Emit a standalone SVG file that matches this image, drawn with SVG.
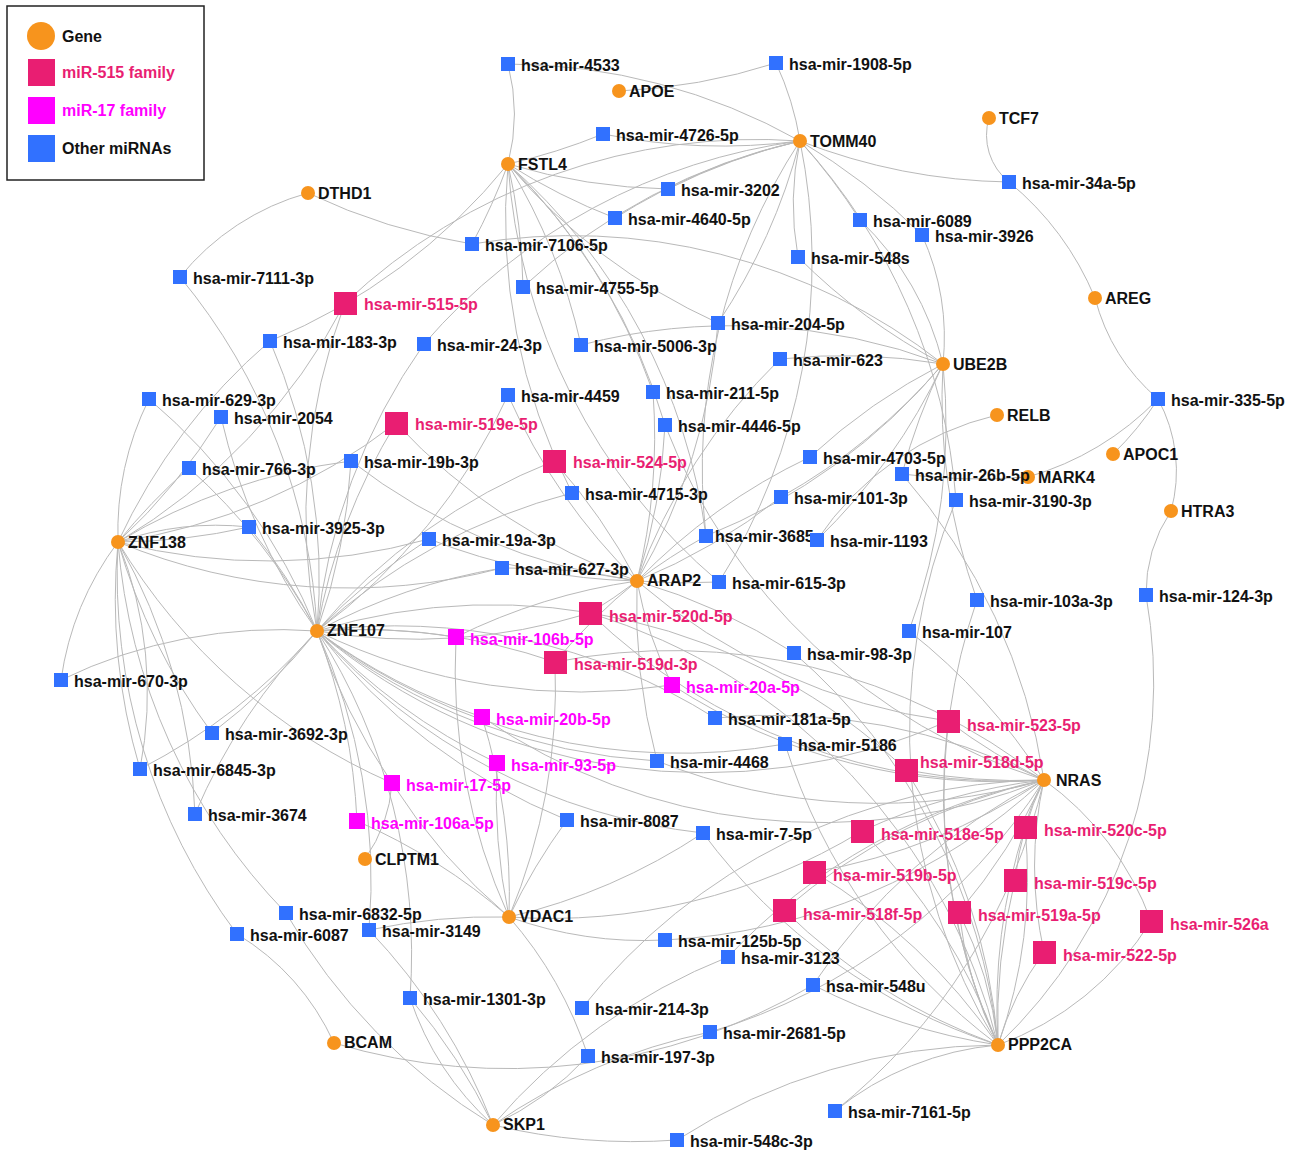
<svg xmlns="http://www.w3.org/2000/svg" width="1293" height="1157" viewBox="0 0 1293 1157">
<style>
.e path{fill:none;stroke:#b9b9b9;stroke-width:1}
.g{fill:#F7941D}
.o{fill:#3171FF}
.p{fill:#E91E72}
.m{fill:#FF00FF}
text{font-family:"Liberation Sans",Arial,sans-serif;font-weight:bold;font-size:16px;fill:#111}
text.tp{fill:#E91E72}
text.tm{fill:#FF00FF}
</style>
<rect width="1293" height="1157" fill="#fff"/>
<g id="legend">
<rect x="7" y="6" width="197" height="174" fill="#fff" stroke="#222" stroke-width="1.5"/>
<circle cx="41" cy="36" r="14" class="g"/><text x="62" y="42">Gene</text>
<rect x="28" y="59" width="27" height="27" class="p"/><text x="62" y="78" class="tp">miR-515 family</text>
<rect x="28" y="97" width="27" height="27" class="m"/><text x="62" y="116" class="tm">miR-17 family</text>
<rect x="28" y="135" width="27" height="27" class="o"/><text x="62" y="154">Other miRNAs</text>
</g>
<g id="edges" class="e">
<path d="M800 141A600 600 0 0 0 508 64"/>
<path d="M800 141A300 300 0 0 0 776 63"/>
<path d="M619 91A600 600 0 0 0 776 63"/>
<path d="M800 141A600 600 0 0 1 603 134"/>
<path d="M508 164A600 600 0 0 0 603 134"/>
<path d="M508 164A200 200 0 0 0 508 64"/>
<path d="M508 164A600 600 0 0 0 668 189"/>
<path d="M800 141A600 600 0 0 0 668 189"/>
<path d="M508 164A600 600 0 0 0 615 218"/>
<path d="M800 141A600 600 0 0 0 615 218"/>
<path d="M800 141A600 600 0 0 0 1009 182"/>
<path d="M989 118A60 60 0 0 0 1009 182"/>
<path d="M1095 298A300 300 0 0 0 1009 182"/>
<path d="M1095 298A200 200 0 0 0 1158 399"/>
<path d="M800 141A600 600 0 0 1 860 220"/>
<path d="M800 141A600 600 0 0 1 922 235"/>
<path d="M943 364A300 300 0 0 0 860 220"/>
<path d="M943 364A250 250 0 0 0 922 235"/>
<path d="M800 141A300 300 0 0 0 798 257"/>
<path d="M943 364A600 600 0 0 1 798 257"/>
<path d="M308 193A600 600 0 0 0 472 244"/>
<path d="M308 193A250 250 0 0 0 180 277"/>
<path d="M508 164A600 600 0 0 1 472 244"/>
<path d="M943 364A600 600 0 0 0 472 244"/>
<path d="M508 164A600 600 0 0 1 523 287"/>
<path d="M800 141A600 600 0 0 0 523 287"/>
<path d="M508 164A600 600 0 0 0 718 323"/>
<path d="M800 141A600 600 0 0 1 718 323"/>
<path d="M637 581A600 600 0 0 0 718 323"/>
<path d="M508 164A600 600 0 0 1 270 341"/>
<path d="M317 631A600 600 0 0 0 270 341"/>
<path d="M118 542A600 600 0 0 1 270 341"/>
<path d="M800 141A600 600 0 0 0 424 344"/>
<path d="M317 631A600 600 0 0 1 424 344"/>
<path d="M508 164A600 600 0 0 1 581 345"/>
<path d="M943 364A600 600 0 0 0 581 345"/>
<path d="M943 364A600 600 0 0 0 780 359"/>
<path d="M637 581A600 600 0 0 1 780 359"/>
<path d="M800 141A600 600 0 0 0 345 303"/>
<path d="M317 631A600 600 0 0 1 345 303"/>
<path d="M118 542A600 600 0 0 0 345 303"/>
<path d="M637 581A600 600 0 0 1 508 395"/>
<path d="M317 631A600 600 0 0 0 508 395"/>
<path d="M508 164A600 600 0 0 1 653 392"/>
<path d="M637 581A600 600 0 0 0 653 392"/>
<path d="M1113 454A300 300 0 0 0 1158 399"/>
<path d="M1028 477A300 300 0 0 0 1158 399"/>
<path d="M1171 511A150 150 0 0 0 1158 399"/>
<path d="M118 542A300 300 0 0 1 149 399"/>
<path d="M317 631A600 600 0 0 0 149 399"/>
<path d="M118 542A600 600 0 0 0 221 417"/>
<path d="M317 631A600 600 0 0 1 221 417"/>
<path d="M508 164A600 600 0 0 1 665 425"/>
<path d="M637 581A600 600 0 0 0 665 425"/>
<path d="M1044 780A600 600 0 0 1 665 425"/>
<path d="M943 364A600 600 0 0 0 810 457"/>
<path d="M637 581A600 600 0 0 1 810 457"/>
<path d="M118 542A600 600 0 0 1 351 461"/>
<path d="M317 631A600 600 0 0 0 351 461"/>
<path d="M637 581A600 600 0 0 1 351 461"/>
<path d="M118 542A600 600 0 0 1 189 468"/>
<path d="M317 631A600 600 0 0 0 189 468"/>
<path d="M943 364A600 600 0 0 0 902 474"/>
<path d="M1028 477A600 600 0 0 1 902 474"/>
<path d="M1044 780A600 600 0 0 0 902 474"/>
<path d="M508 164A600 600 0 0 0 572 493"/>
<path d="M317 631A600 600 0 0 1 572 493"/>
<path d="M943 364A600 600 0 0 1 781 497"/>
<path d="M637 581A600 600 0 0 0 781 497"/>
<path d="M997 415A300 300 0 0 0 817 540"/>
<path d="M800 141A600 600 0 0 1 956 500"/>
<path d="M998 1045A600 600 0 0 1 956 500"/>
<path d="M118 542A600 600 0 0 0 249 527"/>
<path d="M118 542A300 300 0 0 1 249 527"/>
<path d="M317 631A600 600 0 0 0 249 527"/>
<path d="M800 141A600 600 0 0 0 706 536"/>
<path d="M637 581A600 600 0 0 1 706 536"/>
<path d="M943 364A600 600 0 0 1 706 536"/>
<path d="M317 631A600 600 0 0 1 429 539"/>
<path d="M637 581A600 600 0 0 1 429 539"/>
<path d="M118 542A600 600 0 0 0 429 539"/>
<path d="M943 364A600 600 0 0 1 817 540"/>
<path d="M317 631A600 600 0 0 1 502 568"/>
<path d="M637 581A600 600 0 0 0 502 568"/>
<path d="M118 542A600 600 0 0 0 502 568"/>
<path d="M800 141A600 600 0 0 1 719 582"/>
<path d="M637 581A600 600 0 0 0 719 582"/>
<path d="M943 364A600 600 0 0 0 977 600"/>
<path d="M998 1045A600 600 0 0 1 977 600"/>
<path d="M1171 511A150 150 0 0 0 1146 595"/>
<path d="M998 1045A500 500 0 0 0 1146 595"/>
<path d="M943 364A600 600 0 0 1 909 631"/>
<path d="M1044 780A600 600 0 0 0 909 631"/>
<path d="M637 581A600 600 0 0 1 794 653"/>
<path d="M998 1045A600 600 0 0 0 794 653"/>
<path d="M118 542A300 300 0 0 0 61 680"/>
<path d="M317 631A500 500 0 0 0 61 680"/>
<path d="M317 631A600 600 0 0 1 715 718"/>
<path d="M1044 780A600 600 0 0 0 715 718"/>
<path d="M118 542A600 600 0 0 0 212 733"/>
<path d="M317 631A600 600 0 0 1 212 733"/>
<path d="M317 631A600 600 0 0 0 785 744"/>
<path d="M998 1045A600 600 0 0 1 785 744"/>
<path d="M637 581A600 600 0 0 0 657 761"/>
<path d="M317 631A600 600 0 0 0 657 761"/>
<path d="M1044 780A600 600 0 0 1 657 761"/>
<path d="M118 542A600 600 0 0 0 140 769"/>
<path d="M118 542A400 400 0 0 1 140 769"/>
<path d="M317 631A600 600 0 0 1 140 769"/>
<path d="M118 542A600 600 0 0 1 195 814"/>
<path d="M317 631A600 600 0 0 0 195 814"/>
<path d="M317 631A600 600 0 0 0 567 820"/>
<path d="M509 917A600 600 0 0 1 567 820"/>
<path d="M317 631A600 600 0 0 0 703 833"/>
<path d="M509 917A600 600 0 0 0 703 833"/>
<path d="M998 1045A600 600 0 0 1 703 833"/>
<path d="M118 542A600 600 0 0 0 286 913"/>
<path d="M493 1125A600 600 0 0 1 286 913"/>
<path d="M317 631A600 600 0 0 1 369 930"/>
<path d="M509 917A600 600 0 0 0 369 930"/>
<path d="M493 1125A600 600 0 0 0 369 930"/>
<path d="M118 542A600 600 0 0 0 237 934"/>
<path d="M334 1043A250 250 0 0 0 237 934"/>
<path d="M509 917A400 400 0 0 0 665 940"/>
<path d="M1044 780A600 600 0 0 1 665 940"/>
<path d="M1044 780A600 600 0 0 0 728 957"/>
<path d="M493 1125A600 600 0 0 1 728 957"/>
<path d="M1044 780A600 600 0 0 0 813 985"/>
<path d="M998 1045A600 600 0 0 1 813 985"/>
<path d="M334 1043A600 600 0 0 0 813 985"/>
<path d="M317 631A600 600 0 0 1 410 998"/>
<path d="M493 1125A600 600 0 0 0 410 998"/>
<path d="M493 1125A300 300 0 0 1 410 998"/>
<path d="M1044 780A600 600 0 0 0 582 1008"/>
<path d="M1044 780A600 600 0 0 1 710 1032"/>
<path d="M493 1125A600 600 0 0 1 710 1032"/>
<path d="M509 917A400 400 0 0 1 588 1056"/>
<path d="M493 1125A300 300 0 0 0 588 1056"/>
<path d="M998 1045A300 300 0 0 0 835 1111"/>
<path d="M1044 780A600 600 0 0 1 835 1111"/>
<path d="M493 1125A600 600 0 0 0 677 1140"/>
<path d="M998 1045A600 600 0 0 0 677 1140"/>
<path d="M317 631A600 600 0 0 1 396 423"/>
<path d="M118 542A600 600 0 0 0 396 423"/>
<path d="M637 581A600 600 0 0 1 396 423"/>
<path d="M317 631A600 600 0 0 1 554 461"/>
<path d="M637 581A600 600 0 0 0 554 461"/>
<path d="M317 631A600 600 0 0 0 590 613"/>
<path d="M637 581A600 600 0 0 1 590 613"/>
<path d="M1044 780A600 600 0 0 1 590 613"/>
<path d="M998 1045A600 600 0 0 0 590 613"/>
<path d="M317 631A600 600 0 0 1 555 662"/>
<path d="M637 581A600 600 0 0 0 555 662"/>
<path d="M509 917A600 600 0 0 0 555 662"/>
<path d="M1044 780A600 600 0 0 0 555 662"/>
<path d="M317 631A600 600 0 0 0 948 721"/>
<path d="M1044 780A600 600 0 0 1 948 721"/>
<path d="M998 1045A600 600 0 0 1 948 721"/>
<path d="M637 581A600 600 0 0 0 948 721"/>
<path d="M1044 780A600 600 0 0 1 906 770"/>
<path d="M998 1045A600 600 0 0 0 906 770"/>
<path d="M317 631A600 600 0 0 1 906 770"/>
<path d="M1044 780A600 600 0 0 0 862 831"/>
<path d="M998 1045A600 600 0 0 0 862 831"/>
<path d="M509 917A600 600 0 0 0 862 831"/>
<path d="M1044 780A200 200 0 0 0 1025 827"/>
<path d="M998 1045A600 600 0 0 1 1025 827"/>
<path d="M998 1045A500 500 0 0 0 1025 827"/>
<path d="M1044 780A600 600 0 0 1 814 872"/>
<path d="M998 1045A600 600 0 0 0 814 872"/>
<path d="M1044 780A300 300 0 0 0 1015 880"/>
<path d="M998 1045A600 600 0 0 1 1015 880"/>
<path d="M1044 780A600 600 0 0 0 784 910"/>
<path d="M998 1045A600 600 0 0 1 784 910"/>
<path d="M1044 780A600 600 0 0 1 959 912"/>
<path d="M998 1045A400 400 0 0 0 959 912"/>
<path d="M998 1045A400 400 0 0 1 959 912"/>
<path d="M1044 780A300 300 0 0 1 1151 921"/>
<path d="M998 1045A300 300 0 0 0 1151 921"/>
<path d="M1044 780A400 400 0 0 0 1044 952"/>
<path d="M998 1045A300 300 0 0 1 1044 952"/>
<path d="M317 631A600 600 0 0 1 456 637"/>
<path d="M637 581A600 600 0 0 0 456 637"/>
<path d="M509 917A600 600 0 0 1 456 637"/>
<path d="M317 631A600 600 0 0 0 672 685"/>
<path d="M637 581A400 400 0 0 0 672 685"/>
<path d="M1044 780A600 600 0 0 1 672 685"/>
<path d="M317 631A600 600 0 0 0 482 717"/>
<path d="M1044 780A600 600 0 0 1 482 717"/>
<path d="M509 917A600 600 0 0 0 482 717"/>
<path d="M317 631A600 600 0 0 0 497 763"/>
<path d="M509 917A600 600 0 0 1 497 763"/>
<path d="M317 631A600 600 0 0 0 392 783"/>
<path d="M509 917A600 600 0 0 1 392 783"/>
<path d="M365 859A150 150 0 0 0 392 783"/>
<path d="M118 542A600 600 0 0 0 392 783"/>
<path d="M317 631A600 600 0 0 1 357 821"/>
<path d="M509 917A600 600 0 0 0 357 821"/>
<path d="M317 631A600 600 0 0 0 180 277"/>
<path d="M508 164A600 600 0 0 1 706 536"/>
<path d="M508 164A600 600 0 0 0 719 582"/>
</g>
<g id="genes">
<g id="n-APOE"><circle cx="619" cy="91" r="7" class="g"/><text x="629" y="97">APOE</text></g>
<g id="n-TOMM40"><circle cx="800" cy="141" r="7" class="g"/><text x="810" y="147">TOMM40</text></g>
<g id="n-FSTL4"><circle cx="508" cy="164" r="7" class="g"/><text x="518" y="170">FSTL4</text></g>
<g id="n-TCF7"><circle cx="989" cy="118" r="7" class="g"/><text x="999" y="124">TCF7</text></g>
<g id="n-DTHD1"><circle cx="308" cy="193" r="7" class="g"/><text x="318" y="199">DTHD1</text></g>
<g id="n-AREG"><circle cx="1095" cy="298" r="7" class="g"/><text x="1105" y="304">AREG</text></g>
<g id="n-UBE2B"><circle cx="943" cy="364" r="7" class="g"/><text x="953" y="370">UBE2B</text></g>
<g id="n-RELB"><circle cx="997" cy="415" r="7" class="g"/><text x="1007" y="421">RELB</text></g>
<g id="n-APOC1"><circle cx="1113" cy="454" r="7" class="g"/><text x="1123" y="460">APOC1</text></g>
<g id="n-MARK4"><circle cx="1028" cy="477" r="7" class="g"/><text x="1038" y="483">MARK4</text></g>
<g id="n-HTRA3"><circle cx="1171" cy="511" r="7" class="g"/><text x="1181" y="517">HTRA3</text></g>
<g id="n-ZNF138"><circle cx="118" cy="542" r="7" class="g"/><text x="128" y="548">ZNF138</text></g>
<g id="n-ARAP2"><circle cx="637" cy="581" r="7" class="g"/><text x="647" y="586">ARAP2</text></g>
<g id="n-ZNF107"><circle cx="317" cy="631" r="7" class="g"/><text x="327" y="636">ZNF107</text></g>
<g id="n-NRAS"><circle cx="1044" cy="780" r="7" class="g"/><text x="1056" y="786">NRAS</text></g>
<g id="n-CLPTM1"><circle cx="365" cy="859" r="7" class="g"/><text x="375" y="865">CLPTM1</text></g>
<g id="n-VDAC1"><circle cx="509" cy="917" r="7" class="g"/><text x="519" y="922">VDAC1</text></g>
<g id="n-BCAM"><circle cx="334" cy="1043" r="7" class="g"/><text x="344" y="1048">BCAM</text></g>
<g id="n-PPP2CA"><circle cx="998" cy="1045" r="7" class="g"/><text x="1008" y="1050">PPP2CA</text></g>
<g id="n-SKP1"><circle cx="493" cy="1125" r="7" class="g"/><text x="503" y="1130">SKP1</text></g>
</g>
<g id="mirnas">
<g id="n-mir-4533"><rect x="501" y="57" width="14" height="14" class="o"/><text x="521" y="71">hsa-mir-4533</text></g>
<g id="n-mir-1908-5p"><rect x="769" y="56" width="14" height="14" class="o"/><text x="789" y="70">hsa-mir-1908-5p</text></g>
<g id="n-mir-4726-5p"><rect x="596" y="127" width="14" height="14" class="o"/><text x="616" y="141">hsa-mir-4726-5p</text></g>
<g id="n-mir-3202"><rect x="661" y="182" width="14" height="14" class="o"/><text x="681" y="196">hsa-mir-3202</text></g>
<g id="n-mir-34a-5p"><rect x="1002" y="175" width="14" height="14" class="o"/><text x="1022" y="189">hsa-mir-34a-5p</text></g>
<g id="n-mir-4640-5p"><rect x="608" y="211" width="14" height="14" class="o"/><text x="628" y="225">hsa-mir-4640-5p</text></g>
<g id="n-mir-6089"><rect x="853" y="213" width="14" height="14" class="o"/><text x="873" y="227">hsa-mir-6089</text></g>
<g id="n-mir-3926"><rect x="915" y="228" width="14" height="14" class="o"/><text x="935" y="242">hsa-mir-3926</text></g>
<g id="n-mir-7106-5p"><rect x="465" y="237" width="14" height="14" class="o"/><text x="485" y="251">hsa-mir-7106-5p</text></g>
<g id="n-mir-548s"><rect x="791" y="250" width="14" height="14" class="o"/><text x="811" y="264">hsa-mir-548s</text></g>
<g id="n-mir-7111-3p"><rect x="173" y="270" width="14" height="14" class="o"/><text x="193" y="284">hsa-mir-7111-3p</text></g>
<g id="n-mir-4755-5p"><rect x="516" y="280" width="14" height="14" class="o"/><text x="536" y="294">hsa-mir-4755-5p</text></g>
<g id="n-mir-204-5p"><rect x="711" y="316" width="14" height="14" class="o"/><text x="731" y="330">hsa-mir-204-5p</text></g>
<g id="n-mir-183-3p"><rect x="263" y="334" width="14" height="14" class="o"/><text x="283" y="348">hsa-mir-183-3p</text></g>
<g id="n-mir-24-3p"><rect x="417" y="337" width="14" height="14" class="o"/><text x="437" y="351">hsa-mir-24-3p</text></g>
<g id="n-mir-5006-3p"><rect x="574" y="338" width="14" height="14" class="o"/><text x="594" y="352">hsa-mir-5006-3p</text></g>
<g id="n-mir-623"><rect x="773" y="352" width="14" height="14" class="o"/><text x="793" y="366">hsa-mir-623</text></g>
<g id="n-mir-4459"><rect x="501" y="388" width="14" height="14" class="o"/><text x="521" y="402">hsa-mir-4459</text></g>
<g id="n-mir-211-5p"><rect x="646" y="385" width="14" height="14" class="o"/><text x="666" y="399">hsa-mir-211-5p</text></g>
<g id="n-mir-335-5p"><rect x="1151" y="392" width="14" height="14" class="o"/><text x="1171" y="406">hsa-mir-335-5p</text></g>
<g id="n-mir-629-3p"><rect x="142" y="392" width="14" height="14" class="o"/><text x="162" y="406">hsa-mir-629-3p</text></g>
<g id="n-mir-2054"><rect x="214" y="410" width="14" height="14" class="o"/><text x="234" y="424">hsa-mir-2054</text></g>
<g id="n-mir-4446-5p"><rect x="658" y="418" width="14" height="14" class="o"/><text x="678" y="432">hsa-mir-4446-5p</text></g>
<g id="n-mir-4703-5p"><rect x="803" y="450" width="14" height="14" class="o"/><text x="823" y="464">hsa-mir-4703-5p</text></g>
<g id="n-mir-19b-3p"><rect x="344" y="454" width="14" height="14" class="o"/><text x="364" y="468">hsa-mir-19b-3p</text></g>
<g id="n-mir-766-3p"><rect x="182" y="461" width="14" height="14" class="o"/><text x="202" y="475">hsa-mir-766-3p</text></g>
<g id="n-mir-26b-5p"><rect x="895" y="467" width="14" height="14" class="o"/><text x="915" y="481">hsa-mir-26b-5p</text></g>
<g id="n-mir-4715-3p"><rect x="565" y="486" width="14" height="14" class="o"/><text x="585" y="500">hsa-mir-4715-3p</text></g>
<g id="n-mir-101-3p"><rect x="774" y="490" width="14" height="14" class="o"/><text x="794" y="504">hsa-mir-101-3p</text></g>
<g id="n-mir-3190-3p"><rect x="949" y="493" width="14" height="14" class="o"/><text x="969" y="507">hsa-mir-3190-3p</text></g>
<g id="n-mir-3925-3p"><rect x="242" y="520" width="14" height="14" class="o"/><text x="262" y="534">hsa-mir-3925-3p</text></g>
<g id="n-mir-3685"><rect x="699" y="529" width="14" height="14" class="o"/><text x="715" y="542">hsa-mir-3685</text></g>
<g id="n-mir-19a-3p"><rect x="422" y="532" width="14" height="14" class="o"/><text x="442" y="546">hsa-mir-19a-3p</text></g>
<g id="n-mir-1193"><rect x="810" y="533" width="14" height="14" class="o"/><text x="830" y="547">hsa-mir-1193</text></g>
<g id="n-mir-627-3p"><rect x="495" y="561" width="14" height="14" class="o"/><text x="515" y="575">hsa-mir-627-3p</text></g>
<g id="n-mir-615-3p"><rect x="712" y="575" width="14" height="14" class="o"/><text x="732" y="589">hsa-mir-615-3p</text></g>
<g id="n-mir-103a-3p"><rect x="970" y="593" width="14" height="14" class="o"/><text x="990" y="607">hsa-mir-103a-3p</text></g>
<g id="n-mir-124-3p"><rect x="1139" y="588" width="14" height="14" class="o"/><text x="1159" y="602">hsa-mir-124-3p</text></g>
<g id="n-mir-107"><rect x="902" y="624" width="14" height="14" class="o"/><text x="922" y="638">hsa-mir-107</text></g>
<g id="n-mir-98-3p"><rect x="787" y="646" width="14" height="14" class="o"/><text x="807" y="660">hsa-mir-98-3p</text></g>
<g id="n-mir-670-3p"><rect x="54" y="673" width="14" height="14" class="o"/><text x="74" y="687">hsa-mir-670-3p</text></g>
<g id="n-mir-181a-5p"><rect x="708" y="711" width="14" height="14" class="o"/><text x="728" y="725">hsa-mir-181a-5p</text></g>
<g id="n-mir-3692-3p"><rect x="205" y="726" width="14" height="14" class="o"/><text x="225" y="740">hsa-mir-3692-3p</text></g>
<g id="n-mir-5186"><rect x="778" y="737" width="14" height="14" class="o"/><text x="798" y="751">hsa-mir-5186</text></g>
<g id="n-mir-4468"><rect x="650" y="754" width="14" height="14" class="o"/><text x="670" y="768">hsa-mir-4468</text></g>
<g id="n-mir-6845-3p"><rect x="133" y="762" width="14" height="14" class="o"/><text x="153" y="776">hsa-mir-6845-3p</text></g>
<g id="n-mir-3674"><rect x="188" y="807" width="14" height="14" class="o"/><text x="208" y="821">hsa-mir-3674</text></g>
<g id="n-mir-8087"><rect x="560" y="813" width="14" height="14" class="o"/><text x="580" y="827">hsa-mir-8087</text></g>
<g id="n-mir-7-5p"><rect x="696" y="826" width="14" height="14" class="o"/><text x="716" y="840">hsa-mir-7-5p</text></g>
<g id="n-mir-6832-5p"><rect x="279" y="906" width="14" height="14" class="o"/><text x="299" y="920">hsa-mir-6832-5p</text></g>
<g id="n-mir-3149"><rect x="362" y="923" width="14" height="14" class="o"/><text x="382" y="937">hsa-mir-3149</text></g>
<g id="n-mir-6087"><rect x="230" y="927" width="14" height="14" class="o"/><text x="250" y="941">hsa-mir-6087</text></g>
<g id="n-mir-125b-5p"><rect x="658" y="933" width="14" height="14" class="o"/><text x="678" y="947">hsa-mir-125b-5p</text></g>
<g id="n-mir-3123"><rect x="721" y="950" width="14" height="14" class="o"/><text x="741" y="964">hsa-mir-3123</text></g>
<g id="n-mir-548u"><rect x="806" y="978" width="14" height="14" class="o"/><text x="826" y="992">hsa-mir-548u</text></g>
<g id="n-mir-1301-3p"><rect x="403" y="991" width="14" height="14" class="o"/><text x="423" y="1005">hsa-mir-1301-3p</text></g>
<g id="n-mir-214-3p"><rect x="575" y="1001" width="14" height="14" class="o"/><text x="595" y="1015">hsa-mir-214-3p</text></g>
<g id="n-mir-2681-5p"><rect x="703" y="1025" width="14" height="14" class="o"/><text x="723" y="1039">hsa-mir-2681-5p</text></g>
<g id="n-mir-197-3p"><rect x="581" y="1049" width="14" height="14" class="o"/><text x="601" y="1063">hsa-mir-197-3p</text></g>
<g id="n-mir-7161-5p"><rect x="828" y="1104" width="14" height="14" class="o"/><text x="848" y="1118">hsa-mir-7161-5p</text></g>
<g id="n-mir-548c-3p"><rect x="670" y="1133" width="14" height="14" class="o"/><text x="690" y="1147">hsa-mir-548c-3p</text></g>
</g>
<g id="mir515">
<g id="n-mir-515-5p"><rect x="334" y="292" width="23" height="23" class="p"/><text x="364" y="310" class="tp">hsa-mir-515-5p</text></g>
<g id="n-mir-519e-5p"><rect x="385" y="412" width="23" height="23" class="p"/><text x="415" y="430" class="tp">hsa-mir-519e-5p</text></g>
<g id="n-mir-524-5p"><rect x="543" y="450" width="23" height="23" class="p"/><text x="573" y="468" class="tp">hsa-mir-524-5p</text></g>
<g id="n-mir-520d-5p"><rect x="579" y="602" width="23" height="23" class="p"/><text x="609" y="622" class="tp">hsa-mir-520d-5p</text></g>
<g id="n-mir-519d-3p"><rect x="544" y="651" width="23" height="23" class="p"/><text x="574" y="670" class="tp">hsa-mir-519d-3p</text></g>
<g id="n-mir-523-5p"><rect x="937" y="710" width="23" height="23" class="p"/><text x="967" y="731" class="tp">hsa-mir-523-5p</text></g>
<g id="n-mir-518d-5p"><rect x="895" y="759" width="23" height="23" class="p"/><text x="920" y="768" class="tp">hsa-mir-518d-5p</text></g>
<g id="n-mir-518e-5p"><rect x="851" y="820" width="23" height="23" class="p"/><text x="881" y="840" class="tp">hsa-mir-518e-5p</text></g>
<g id="n-mir-520c-5p"><rect x="1014" y="816" width="23" height="23" class="p"/><text x="1044" y="836" class="tp">hsa-mir-520c-5p</text></g>
<g id="n-mir-519b-5p"><rect x="803" y="861" width="23" height="23" class="p"/><text x="833" y="881" class="tp">hsa-mir-519b-5p</text></g>
<g id="n-mir-519c-5p"><rect x="1004" y="869" width="23" height="23" class="p"/><text x="1034" y="889" class="tp">hsa-mir-519c-5p</text></g>
<g id="n-mir-518f-5p"><rect x="773" y="899" width="23" height="23" class="p"/><text x="803" y="920" class="tp">hsa-mir-518f-5p</text></g>
<g id="n-mir-519a-5p"><rect x="948" y="901" width="23" height="23" class="p"/><text x="978" y="921" class="tp">hsa-mir-519a-5p</text></g>
<g id="n-mir-526a"><rect x="1140" y="910" width="23" height="23" class="p"/><text x="1170" y="930" class="tp">hsa-mir-526a</text></g>
<g id="n-mir-522-5p"><rect x="1033" y="941" width="23" height="23" class="p"/><text x="1063" y="961" class="tp">hsa-mir-522-5p</text></g>
</g>
<g id="mir17">
<g id="n-mir-106b-5p"><rect x="448" y="629" width="16" height="16" class="m"/><text x="470" y="645" class="tm">hsa-mir-106b-5p</text></g>
<g id="n-mir-20a-5p"><rect x="664" y="677" width="16" height="16" class="m"/><text x="686" y="693" class="tm">hsa-mir-20a-5p</text></g>
<g id="n-mir-20b-5p"><rect x="474" y="709" width="16" height="16" class="m"/><text x="496" y="725" class="tm">hsa-mir-20b-5p</text></g>
<g id="n-mir-93-5p"><rect x="489" y="755" width="16" height="16" class="m"/><text x="511" y="771" class="tm">hsa-mir-93-5p</text></g>
<g id="n-mir-17-5p"><rect x="384" y="775" width="16" height="16" class="m"/><text x="406" y="791" class="tm">hsa-mir-17-5p</text></g>
<g id="n-mir-106a-5p"><rect x="349" y="813" width="16" height="16" class="m"/><text x="371" y="829" class="tm">hsa-mir-106a-5p</text></g>
</g>
</svg>
